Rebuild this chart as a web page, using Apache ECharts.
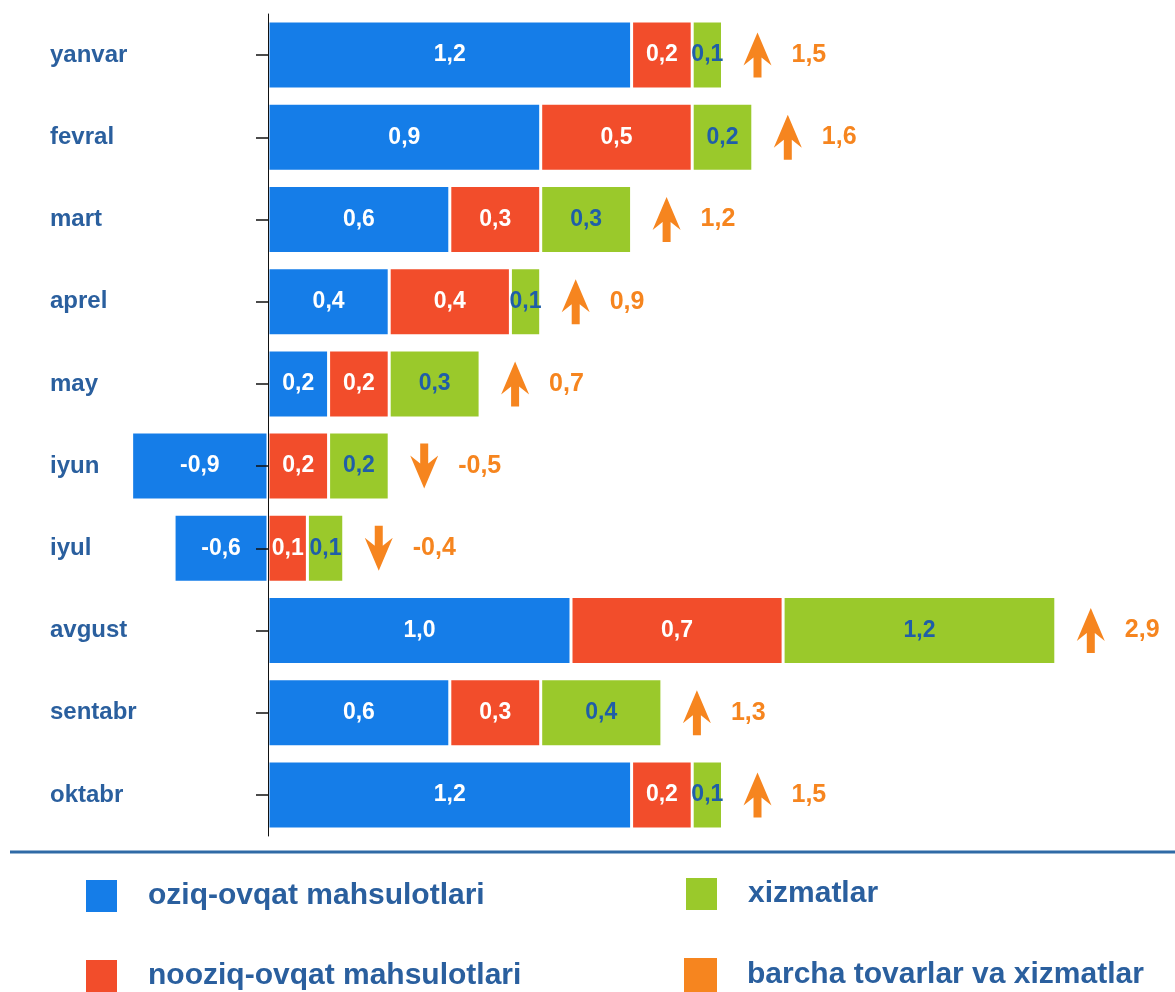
<!DOCTYPE html>
<html>
<head>
<meta charset="utf-8">
<script src="https://cdn.jsdelivr.net/npm/echarts@6/dist/echarts.min.js"></script>
<style>
html,body{margin:0;padding:0;background:#fff;}
#chart{width:1175px;height:992px;}
</style>
</head>
<body>
<div id="chart"></div>
<script>
// Categories (top to bottom)
const months = ['yanvar','fevral','mart','aprel','may','iyun','iyul','avgust','sentabr','oktabr'];

// Printed values (labels in the picture)
const foodValues    = [1.2, 0.9, 0.6, 0.4, 0.2, -0.9, -0.6, 1.0, 0.6, 1.2];
const nonFoodValues = [0.2, 0.5, 0.3, 0.4, 0.2, 0.2, 0.1, 0.7, 0.3, 0.2];
const serviceValues = [0.1, 0.2, 0.3, 0.1, 0.3, 0.2, 0.1, 1.2, 0.4, 0.1];
const totalValues   = [1.5, 1.6, 1.2, 0.9, 0.7, -0.5, -0.4, 2.9, 1.3, 1.5];

// Bar lengths as drawn in the picture (some bars are not drawn to the printed value)
const foodLengths    = [1.2, 0.9, 0.6, 0.4, 0.2, -0.45, -0.31, 1.0, 0.6, 1.2];
const nonFoodLengths = [0.2, 0.5, 0.3, 0.4, 0.2, 0.2, 0.13, 0.7, 0.3, 0.2];
const serviceLengths = [0.1, 0.2, 0.3, 0.1, 0.3, 0.2, 0.12, 0.9, 0.4, 0.1];

const seriesNames = ['oziq-ovqat mahsulotlari','nooziq-ovqat mahsulotlari','xizmatlar','barcha tovarlar va xizmatlar'];

const FONT = '"Liberation Sans", Arial, sans-serif';
const BLUE = '#157de8', RED = '#f24d2b', GREEN = '#9ac92b', ORANGE = '#f6851f';
const TEXT_BLUE = '#2a5f9e';

const fmt = v => v.toFixed(1).replace('.', ',');

// arrow sits right after the end of the positive part of each stacked bar
const positiveEnd = months.map((m, i) =>
  [foodLengths[i], nonFoodLengths[i], serviceLengths[i]].filter(v => v > 0).reduce((a, b) => a + b, 0));

function barSeries(name, lengths, printed, color, labelColor) {
  return {
    name: name,
    type: 'bar',
    stack: 'all',
    barWidth: 68,
    data: lengths,
    itemStyle: { color: color, borderColor: '#ffffff', borderWidth: 1.5 },
    label: {
      show: true,
      position: 'inside',
      color: labelColor,
      fontFamily: FONT,
      fontWeight: 'bold',
      fontSize: 23,
      formatter: p => fmt(printed[p.dataIndex])
    },
    z: 2
  };
}

function legendItem(name, left, top) {
  return {
    data: [name],
    left: left, top: top,
    icon: 'rect', itemWidth: 33, itemHeight: 34,
    selectedMode: false,
    padding: 0,
    textStyle: { color: TEXT_BLUE, fontFamily: FONT, fontWeight: 'bold', fontSize: 30, padding: [0, 0, 0, 25] }
  };
}

const arrowPath = 'path://M14,0 L28,33 L18,25 L18,45 L10,45 L10,25 L0,33 Z';

const chart = echarts.init(document.getElementById('chart'), null, { renderer: 'canvas' });
chart.setOption({
  backgroundColor: '#ffffff',
  animation: false,
  grid: { left: 116.5, right: 28.3, top: 14, bottom: 156, containLabel: false, outerBoundsMode: 'none' },
  xAxis: { type: 'value', min: -0.5, max: 2.9, show: false },
  yAxis: {
    type: 'category',
    data: months,
    inverse: true,
    z: 5,
    axisLine: { show: true, onZero: true, lineStyle: { color: '#111', width: 1 } },
    axisTick: { show: true, alignWithLabel: true, length: 12, lineStyle: { color: '#111', width: 1.5 } },
    axisLabel: {
      align: 'left',
      margin: 66.5,
      color: TEXT_BLUE,
      fontFamily: FONT,
      fontWeight: 'bold',
      fontSize: 24
    },
    splitLine: { show: false }
  },
  legend: [
    legendItem(seriesNames[0], 84, 878),
    legendItem(seriesNames[1], 84, 958),
    legendItem(seriesNames[2], 684, 876),
    legendItem(seriesNames[3], 684, 958)
  ],
  graphic: [
    { type: 'line', shape: { x1: 10, y1: 852, x2: 1175, y2: 852 }, style: { stroke: '#2f6aa6', lineWidth: 3 } }
  ],
  series: [
    barSeries(seriesNames[0], foodLengths, foodValues, BLUE, '#ffffff'),
    barSeries(seriesNames[1], nonFoodLengths, nonFoodValues, RED, '#ffffff'),
    barSeries(seriesNames[2], serviceLengths, serviceValues, GREEN, '#1f5ea8'),
    {
      name: seriesNames[3],
      type: 'scatter',
      symbol: arrowPath,
      symbolSize: [28, 45],
      symbolOffset: [35, 0],
      itemStyle: { color: ORANGE, opacity: 1 },
      data: months.map((m, i) => ({ value: [positiveEnd[i], m], symbolRotate: totalValues[i] < 0 ? 180 : 0 })),
      label: {
        show: true,
        position: 'right',
        distance: 20,
        color: ORANGE,
        fontFamily: FONT,
        fontWeight: 'bold',
        fontSize: 25,
        formatter: p => fmt(totalValues[p.dataIndex])
      },
      z: 6
    }
  ]
});
</script>
</body>
</html>
